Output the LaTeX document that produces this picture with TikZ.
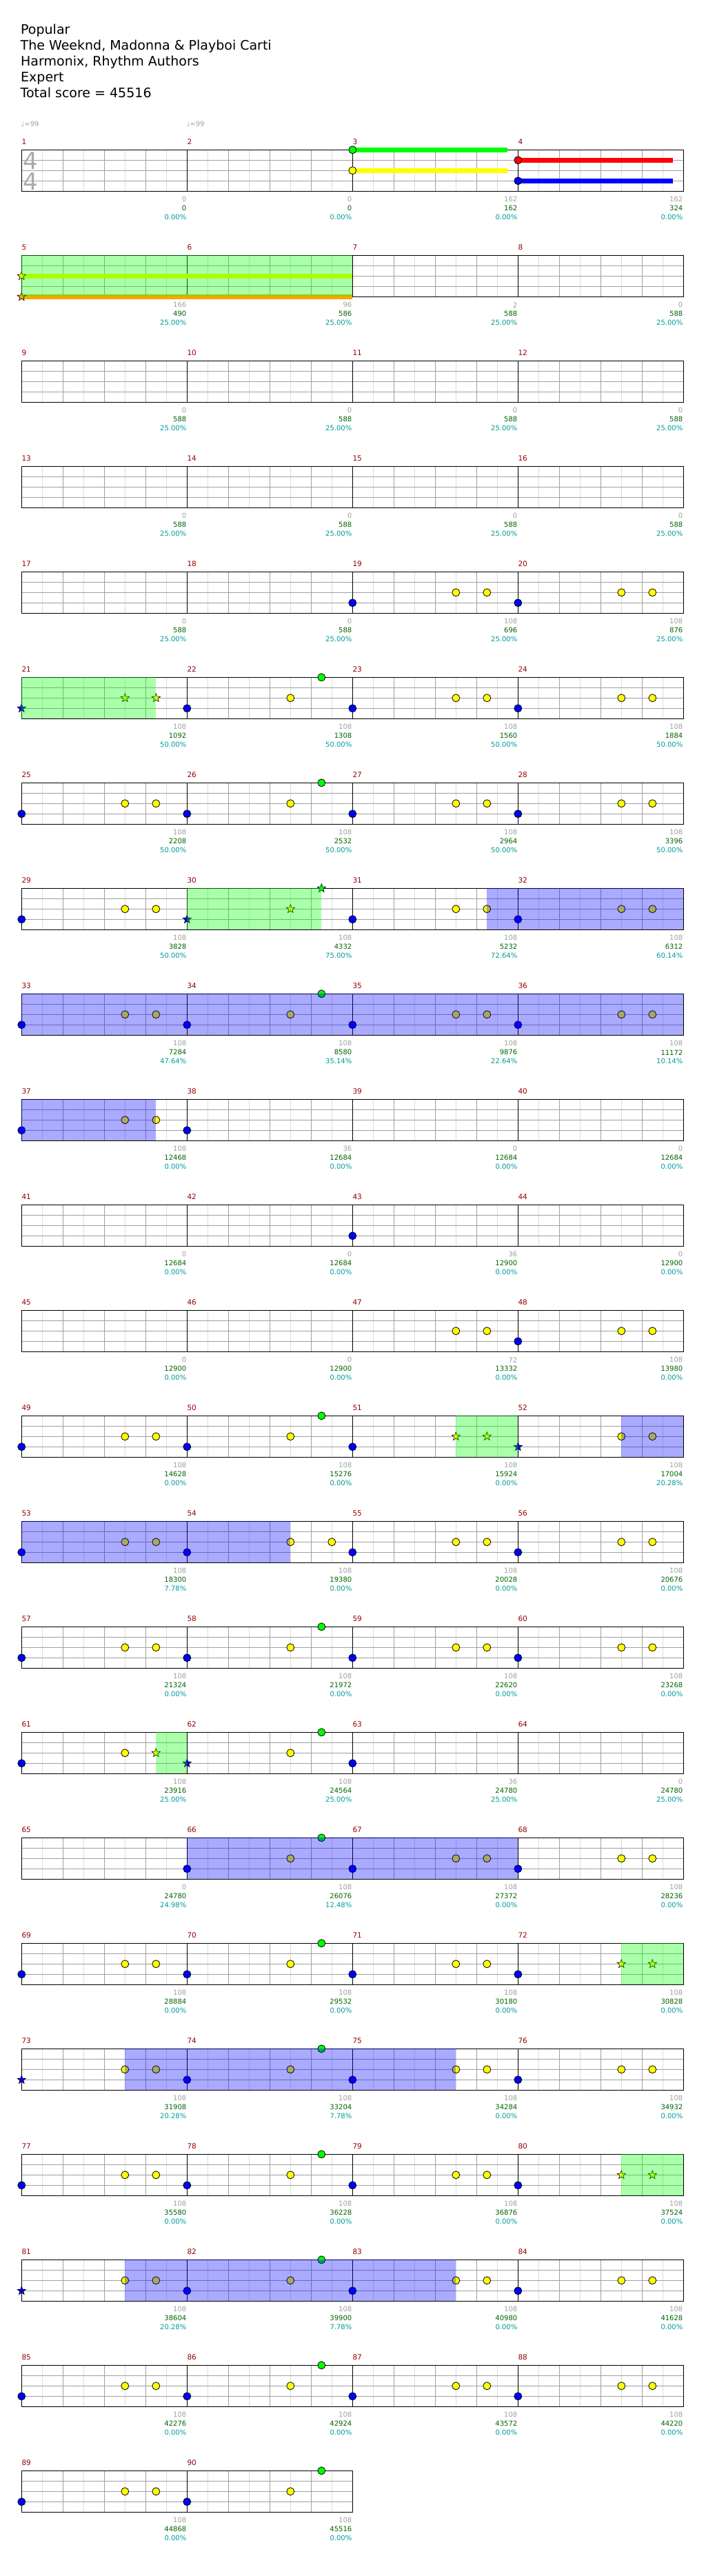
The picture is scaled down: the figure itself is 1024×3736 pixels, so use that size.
\documentclass[tikz,border=0pt]{standalone}
\usepackage{fontspec}
\setmainfont{DejaVu Sans}
\usetikzlibrary{shapes.geometric}
\definecolor{mnum}{RGB}{150,0,0}
\definecolor{lgray}{RGB}{160,160,160}
\definecolor{vlgray}{RGB}{220,220,220}
\definecolor{tsgray}{RGB}{170,170,170}
\definecolor{sgreen}{RGB}{0,100,0}
\definecolor{pct}{RGB}{0,155,155}
\definecolor{nyellow}{RGB}{255,255,0}
\definecolor{ngreen}{RGB}{0,255,0}
\definecolor{nblue}{RGB}{0,0,255}
\definecolor{nred}{RGB}{255,0,0}
\definecolor{norange}{RGB}{255,165,0}
\newcounter{nd}
\tikzset{
  nt/.style={draw=black, line width=0.8pt},
  strn/.style={star, star points=5, star point ratio=2.4, minimum size=13pt, inner sep=0pt, draw=black, line width=0.6pt},
  mlab/.style={anchor=west, text=mnum, font=\fontsize{10.5}{12}\selectfont, inner sep=0pt},
  glab/.style={anchor=east, text=lgray, font=\fontsize{10}{12}\selectfont, inner sep=0pt},
  slab/.style={anchor=east, text=sgreen, font=\fontsize{10}{12}\selectfont, inner sep=0pt},
  plab/.style={anchor=east, text=pct, font=\fontsize{10}{12}\selectfont, inner sep=0pt},
  ttl/.style={anchor=base west, font=\fontsize{19}{22}\selectfont, inner sep=0pt},
  sus/.style={line width=7pt},
  grid1/.style={vlgray, line width=1pt},
  grid2/.style={lgray, line width=1pt},
  grid3/.style={black, line width=1pt},
}
% note circle: row, measure, beat, lane, colour
\newcommand\nc[5]{\filldraw[#5, nt] ({31.3+240*#2+60*#3},{217.3+153*#1+15*#4}) circle (5.5pt);}
% star note
\newcommand\ns[5]{\stepcounter{nd}\node[strn, fill=#5] (star\arabic{nd}) at ({31.3+240*#2+60*#3},{217.3+153*#1+15*#4}) {};}
\newcommand\std[2]{\nc{#1}{#2}{0}{3}{nblue}\nc{#1}{#2}{2.5}{2}{nyellow}\nc{#1}{#2}{3.25}{2}{nyellow}}
\newcommand\stdg[2]{\nc{#1}{#2}{0}{3}{nblue}\nc{#1}{#2}{2.5}{2}{nyellow}\nc{#1}{#2}{3.25}{0}{ngreen}}
% overlay: row, x1, x2 (offsets from staff left), colour
\newcommand\ovl[4]{\fill[#4, opacity=0.3333] ({31.3+#2},{217.3+153*#1}) rectangle ({31.3+#3},{277.3+153*#1});}
\newcommand\staffrow[1]{%
  \begin{scope}[shift={(31.3,{217.3+153*#1})}]
    \foreach \x in {30,90,...,930} \draw[grid1] (\x,0) -- (\x,60);
    \draw[grid2] (0,15) -- (960,15) (0,30) -- (960,30) (0,45) -- (960,45);
    \foreach \x in {60,120,180,300,360,420,540,600,660,780,840,900} \draw[grid2] (\x,0) -- (\x,60);
    \foreach \x in {240,480,720} \draw[grid3] (\x,0) -- (\x,60);
    \draw[grid3] (0,0) rectangle (960,60);
  \end{scope}}
\begin{document}
\begin{tikzpicture}[x=1pt,y=-1pt]
\path[use as bounding box, fill=white] (0,0) rectangle (1024,3736);

% title
\node[ttl] (t1) at (30,49.3) {Popular};
\node[ttl] (t2) at (29.5,72.3) {The Weeknd, Madonna \& Playboi Carti};
\node[ttl] (t3) at (30,95.3) {Harmonix, Rhythm Authors};
\node[ttl] (t4) at (30,118.3) {Expert};
\node[ttl] (t5) at (29.5,141.3) {Total score = 45516};

% tempo
\node[anchor=west, text=lgray, font=\fontsize{10}{12}\selectfont, inner sep=0pt] (tp1) at (30.5,180) {♩=99};
\node[anchor=west, text=lgray, font=\fontsize{10}{12}\selectfont, inner sep=0pt] (tp2) at (270.5,180) {♩=99};

% staves
\foreach \r in {0,...,21} {\staffrow{\r}}
\begin{scope}[shift={(31.3,{217.3+153*22})}]
  \foreach \x in {30,90,...,450} \draw[grid1] (\x,0) -- (\x,60);
  \draw[grid2] (0,15) -- (480,15) (0,30) -- (480,30) (0,45) -- (480,45);
  \foreach \x in {60,120,180,300,360,420} \draw[grid2] (\x,0) -- (\x,60);
  \draw[grid3] (240,0) -- (240,60);
  \draw[grid3] (0,0) rectangle (480,60);
\end{scope}

% time signature
\node[text=tsgray, font=\fontsize{34}{36}\selectfont, inner sep=0pt] (ts1) at (44.3,232.8) {4};
\node[text=tsgray, font=\fontsize{34}{36}\selectfont, inner sep=0pt] (ts2) at (44.3,262.8) {4};

% row 0 sustains and notes
\draw[sus, ngreen] (511.3,217.3) -- (736.3,217.3);
\draw[sus, nyellow] (511.3,247.3) -- (736.3,247.3);
\draw[sus, nred] (751.3,232.3) -- (976.3,232.3);
\draw[sus, nblue] (751.3,262.3) -- (976.3,262.3);
\nc{0}{2}{0}{0}{ngreen}
\nc{0}{2}{0}{2}{nyellow}
\nc{0}{3}{0}{1}{nred}
\nc{0}{3}{0}{3}{nblue}

% row 1
\draw[sus, nyellow] (31.3,400.3) -- (511.3,400.3);
\draw[sus, norange] (31.3,430.3) -- (511.3,430.3);
\ns{1}{0}{0}{2}{nyellow}
\ns{1}{0}{0}{4}{norange}
\ovl{1}{0}{480}{ngreen}

% row 4
\std{4}{2}\std{4}{3}

% row 5
\ns{5}{0}{0}{3}{nblue}\ns{5}{0}{2.5}{2}{nyellow}\ns{5}{0}{3.25}{2}{nyellow}
\stdg{5}{1}\std{5}{2}\std{5}{3}
\ovl{5}{0}{195}{ngreen}

% row 6
\std{6}{0}\stdg{6}{1}\std{6}{2}\std{6}{3}

% row 7
\std{7}{0}
\ns{7}{1}{0}{3}{nblue}\ns{7}{1}{2.5}{2}{nyellow}\ns{7}{1}{3.25}{0}{ngreen}
\std{7}{2}\std{7}{3}
\ovl{7}{240}{435}{ngreen}
\ovl{7}{675}{960}{nblue}

% row 8
\std{8}{0}\stdg{8}{1}\std{8}{2}\std{8}{3}
\ovl{8}{0}{960}{nblue}

% row 9
\std{9}{0}\nc{9}{1}{0}{3}{nblue}
\ovl{9}{0}{195}{nblue}

% row 10
\nc{10}{2}{0}{3}{nblue}

% row 11
\nc{11}{2}{2.5}{2}{nyellow}\nc{11}{2}{3.25}{2}{nyellow}
\std{11}{3}

% row 12
\std{12}{0}\stdg{12}{1}
\nc{12}{2}{0}{3}{nblue}\ns{12}{2}{2.5}{2}{nyellow}\ns{12}{2}{3.25}{2}{nyellow}
\ns{12}{3}{0}{3}{nblue}\nc{12}{3}{2.5}{2}{nyellow}\nc{12}{3}{3.25}{2}{nyellow}
\ovl{12}{630}{720}{ngreen}
\ovl{12}{870}{960}{nblue}

% row 13
\std{13}{0}
\nc{13}{1}{0}{3}{nblue}\nc{13}{1}{2.5}{2}{nyellow}\nc{13}{1}{3.5}{2}{nyellow}
\std{13}{2}\std{13}{3}
\ovl{13}{0}{390}{nblue}

% row 14
\std{14}{0}\stdg{14}{1}\std{14}{2}\std{14}{3}

% row 15
\nc{15}{0}{0}{3}{nblue}\nc{15}{0}{2.5}{2}{nyellow}\ns{15}{0}{3.25}{2}{nyellow}
\ns{15}{1}{0}{3}{nblue}\nc{15}{1}{2.5}{2}{nyellow}\nc{15}{1}{3.25}{0}{ngreen}
\nc{15}{2}{0}{3}{nblue}
\ovl{15}{195}{240}{ngreen}

% row 16
\stdg{16}{1}\std{16}{2}\std{16}{3}
\ovl{16}{240}{720}{nblue}

% row 17
\std{17}{0}\stdg{17}{1}\std{17}{2}
\nc{17}{3}{0}{3}{nblue}\ns{17}{3}{2.5}{2}{nyellow}\ns{17}{3}{3.25}{2}{nyellow}
\ovl{17}{870}{960}{ngreen}

% row 18
\ns{18}{0}{0}{3}{nblue}\nc{18}{0}{2.5}{2}{nyellow}\nc{18}{0}{3.25}{2}{nyellow}
\stdg{18}{1}\std{18}{2}\std{18}{3}
\ovl{18}{150}{630}{nblue}

% row 19
\std{19}{0}\stdg{19}{1}\std{19}{2}
\nc{19}{3}{0}{3}{nblue}\ns{19}{3}{2.5}{2}{nyellow}\ns{19}{3}{3.25}{2}{nyellow}
\ovl{19}{870}{960}{ngreen}

% row 20
\ns{20}{0}{0}{3}{nblue}\nc{20}{0}{2.5}{2}{nyellow}\nc{20}{0}{3.25}{2}{nyellow}
\stdg{20}{1}\std{20}{2}\std{20}{3}
\ovl{20}{150}{630}{nblue}

% row 21
\std{21}{0}\stdg{21}{1}\std{21}{2}\std{21}{3}

% row 22
\std{22}{0}\stdg{22}{1}

% measure labels
\foreach \mn/\g/\s/\p in {
1/0/0/0.00, 2/0/0/0.00, 3/162/162/0.00, 4/162/324/0.00,
5/166/490/25.00, 6/96/586/25.00, 7/2/588/25.00, 8/0/588/25.00,
9/0/588/25.00, 10/0/588/25.00, 11/0/588/25.00, 12/0/588/25.00,
13/0/588/25.00, 14/0/588/25.00, 15/0/588/25.00, 16/0/588/25.00,
17/0/588/25.00, 18/0/588/25.00, 19/108/696/25.00, 20/108/876/25.00,
21/108/1092/50.00, 22/108/1308/50.00, 23/108/1560/50.00, 24/108/1884/50.00,
25/108/2208/50.00, 26/108/2532/50.00, 27/108/2964/50.00, 28/108/3396/50.00,
29/108/3828/50.00, 30/108/4332/75.00, 31/108/5232/72.64, 32/108/6312/60.14,
33/108/7284/47.64, 34/108/8580/35.14, 35/108/9876/22.64, 36/108/11172/10.14,
37/108/12468/0.00, 38/36/12684/0.00, 39/0/12684/0.00, 40/0/12684/0.00,
41/0/12684/0.00, 42/0/12684/0.00, 43/36/12900/0.00, 44/0/12900/0.00,
45/0/12900/0.00, 46/0/12900/0.00, 47/72/13332/0.00, 48/108/13980/0.00,
49/108/14628/0.00, 50/108/15276/0.00, 51/108/15924/0.00, 52/108/17004/20.28,
53/108/18300/7.78, 54/108/19380/0.00, 55/108/20028/0.00, 56/108/20676/0.00,
57/108/21324/0.00, 58/108/21972/0.00, 59/108/22620/0.00, 60/108/23268/0.00,
61/108/23916/25.00, 62/108/24564/25.00, 63/36/24780/25.00, 64/0/24780/25.00,
65/0/24780/24.98, 66/108/26076/12.48, 67/108/27372/0.00, 68/108/28236/0.00,
69/108/28884/0.00, 70/108/29532/0.00, 71/108/30180/0.00, 72/108/30828/0.00,
73/108/31908/20.28, 74/108/33204/7.78, 75/108/34284/0.00, 76/108/34932/0.00,
77/108/35580/0.00, 78/108/36228/0.00, 79/108/36876/0.00, 80/108/37524/0.00,
81/108/38604/20.28, 82/108/39900/7.78, 83/108/40980/0.00, 84/108/41628/0.00,
85/108/42276/0.00, 86/108/42924/0.00, 87/108/43572/0.00, 88/108/44220/0.00,
89/108/44868/0.00, 90/108/45516/0.00} {
  \pgfmathtruncatemacro\rr{(\mn-1)/4}
  \pgfmathtruncatemacro\mm{mod(\mn-1,4)}
  \node[mlab] (num\mn) at ({31.3+240*\mm},{206+153*\rr}) {\mn};
  \node[glab] (gl\mn) at ({270.5+240*\mm},{289.3+153*\rr}) {\g};
  \node[slab] (sc\mn) at ({270.5+240*\mm},{302.3+153*\rr}) {\s};
  \node[plab] (pc\mn) at ({270.5+240*\mm},{315.3+153*\rr}) {\p\%};
}
\end{tikzpicture}
\end{document}
